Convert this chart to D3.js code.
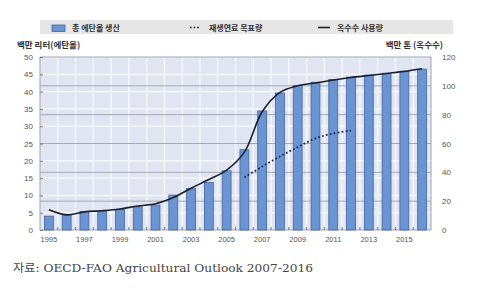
<!DOCTYPE html>
<html>
<head>
<meta charset="utf-8">
<script src="https://cdn.jsdelivr.net/npm/d3@7"></script>
<style>
  html, body { margin: 0; padding: 0; background: #fff; }
  svg { display: block; }
</style>
</head>
<body>
<div id="chart"></div>
<script>
// ---- data ----
const years = d3.range(1995, 2017);
const ethanol = [4.0, 4.4, 5.3, 5.5, 6.0, 6.7, 7.2, 10.1, 12.0, 13.7, 17.1, 23.2, 34.4, 39.6, 41.8, 42.7, 43.5, 44.2, 44.8, 45.3, 45.8, 46.5];
const cornUse = [14, 10.5, 12.6, 13.4, 14.6, 16.7, 18.2, 22.5, 29, 35, 41.5, 54, 82, 95.5, 100, 102, 104, 105.8, 107.2, 108.6, 110, 111.8];
const targetYears = [2006, 2007, 2008, 2009, 2010, 2011, 2012];
const target = [36.5, 44, 51, 57.5, 63.5, 67, 69];
const leftTicks = d3.range(0, 51, 5);
const rightTicks = d3.range(0, 121, 20);
const labelYears = d3.range(1995, 2016, 2);

const W = 480, H = 290;
const plot = { left: 40, right: 431, top: 57, bottom: 230 };

const svg = d3.select("#chart").append("svg")
  .attr("width", W).attr("height", H);

const x = d3.scaleBand().domain(years).range([plot.left, plot.right]).padding(0);
const yL = d3.scaleLinear().domain([0, 50]).range([plot.bottom, plot.top]);
const yR = d3.scaleLinear().domain([0, 120]).range([plot.bottom, plot.top]);
const cx = d => x(d) + x.bandwidth() / 2;

// Legend box
const legend = svg.append("g");
legend.append("rect").attr("x", 40).attr("y", 20).attr("width", 413).attr("height", 14).attr("fill", "#e6e6e6");
legend.append("rect").attr("x", 52).attr("y", 25).attr("width", 13).attr("height", 6.5)
  .attr("fill", "#6b95d2").attr("stroke", "#3f64a0").attr("stroke-width", 0.8);
legend.append("text").attr("x", 72).attr("y", 30.5).text("총 에탄올 생산");
legend.append("line").attr("x1", 190).attr("x2", 199).attr("y1", 27.5).attr("y2", 27.5)
  .attr("stroke", "#222").attr("stroke-width", 1.6).attr("stroke-dasharray", "1.6,2");
legend.append("text").attr("x", 209).attr("y", 30.5).text("재생연료 목표량");
legend.append("line").attr("x1", 318).attr("x2", 330).attr("y1", 27.5).attr("y2", 27.5)
  .attr("stroke", "#222").attr("stroke-width", 1.6);
legend.append("text").attr("x", 337).attr("y", 30.5).text("옥수수 사용량");
legend.selectAll("text")
  .attr("font-family", "'Noto Sans CJK KR', sans-serif").attr("font-size", "8px")
  .attr("font-weight", "bold").attr("fill", "#333");

// Axis titles
svg.append("text").attr("x", 17).attr("y", 48).text("백만 리터(에탄올)")
  .attr("font-family", "'Noto Sans CJK KR', sans-serif").attr("font-size", "8.5px")
  .attr("font-weight", "bold").attr("fill", "#333");
svg.append("text").attr("x", 443).attr("y", 48).attr("text-anchor", "end").text("백만 톤 (옥수수)")
  .attr("font-family", "'Noto Sans CJK KR', sans-serif").attr("font-size", "8.5px")
  .attr("font-weight", "bold").attr("fill", "#333");

// Plot background
svg.append("rect").attr("x", plot.left).attr("y", plot.top)
  .attr("width", plot.right - plot.left).attr("height", plot.bottom - plot.top)
  .attr("fill", "#e0e5f1");

// Vertical white grid at band boundaries
svg.append("g").selectAll("line").data(years.slice(1)).enter().append("line")
  .attr("x1", d => x(d)).attr("x2", d => x(d))
  .attr("y1", plot.top).attr("y2", plot.bottom)
  .attr("stroke", "#fff").attr("stroke-width", 1);

// Horizontal white grid (left ticks)
svg.append("g").selectAll("line").data(leftTicks.slice(1)).enter().append("line")
  .attr("x1", plot.left).attr("x2", plot.right)
  .attr("y1", d => yL(d)).attr("y2", d => yL(d))
  .attr("stroke", "#fff").attr("stroke-width", 1);

// Horizontal grey grid (right ticks)
svg.append("g").selectAll("line").data(rightTicks.slice(1, -1)).enter().append("line")
  .attr("x1", plot.left).attr("x2", plot.right)
  .attr("y1", d => yR(d)).attr("y2", d => yR(d))
  .attr("stroke", "#a3a8b3").attr("stroke-width", 1);

// Frame
svg.append("rect").attr("x", plot.left).attr("y", plot.top)
  .attr("width", plot.right - plot.left).attr("height", plot.bottom - plot.top)
  .attr("fill", "none").attr("stroke", "#a0a4ad").attr("stroke-width", 1);

// Bars
const bw = x.bandwidth() * 0.5;
svg.append("g").selectAll("rect").data(years).enter().append("rect")
  .attr("x", (d) => cx(d) - bw / 2)
  .attr("y", (d, i) => yL(ethanol[i]))
  .attr("width", bw)
  .attr("height", (d, i) => plot.bottom - yL(ethanol[i]))
  .attr("fill", "#6b95d2")
  .attr("stroke", "#3f64a0").attr("stroke-width", 0.8);

// Corn use line
const cornLine = d3.line()
  .x((d, i) => cx(years[i]))
  .y(d => yR(d))
  .curve(d3.curveCatmullRom.alpha(0.5));
svg.append("path").datum(cornUse)
  .attr("d", cornLine)
  .attr("fill", "none").attr("stroke", "#1b1f2e").attr("stroke-width", 1.6);

// Renewable fuel target (dotted)
const targetLine = d3.line()
  .x((d, i) => cx(targetYears[i]))
  .y(d => yR(d))
  .curve(d3.curveCatmullRom.alpha(0.5));
svg.append("path").datum(target)
  .attr("d", targetLine)
  .attr("fill", "none").attr("stroke", "#1d2a52").attr("stroke-width", 1.8)
  .attr("stroke-dasharray", "1.8,2.2");

// Left axis
svg.append("g").attr("transform", `translate(${plot.left},0)`)
  .call(d3.axisLeft(yL).tickValues(leftTicks).tickSize(-3).tickPadding(7))
  .call(g => g.select(".domain").remove())
  .call(g => g.selectAll("line").attr("stroke", "#777"))
  .call(g => g.selectAll("text").attr("fill", "#555").attr("font-size", "8px")
    .attr("font-family", "'Liberation Sans', Arial, sans-serif"));

// Right axis
svg.append("g").attr("transform", `translate(${plot.right},0)`)
  .call(d3.axisRight(yR).tickValues(rightTicks).tickSize(0).tickPadding(11))
  .call(g => g.select(".domain").remove())
  .call(g => g.selectAll("text").attr("fill", "#555").attr("font-size", "8px")
    .attr("font-family", "'Liberation Sans', Arial, sans-serif"));

// Bottom ticks at band boundaries
svg.append("g").selectAll("line").data(years.slice(1)).enter().append("line")
  .attr("x1", d => x(d)).attr("x2", d => x(d))
  .attr("y1", plot.bottom - 3).attr("y2", plot.bottom)
  .attr("stroke", "#555").attr("stroke-width", 0.8);

// Year labels
svg.append("g").selectAll("text").data(labelYears).enter().append("text")
  .attr("x", d => cx(d)).attr("y", 242)
  .attr("text-anchor", "middle")
  .attr("fill", "#555").attr("font-size", "7.5px")
  .attr("font-family", "'Liberation Sans', Arial, sans-serif")
  .text(d => d);

// Source note
svg.append("text").attr("x", 13).attr("y", 272)
  .attr("font-family", "'DejaVu Serif', 'Noto Sans CJK KR', serif")
  .attr("font-size", "11.5px").attr("fill", "#444")
  .attr("textLength", 300).attr("lengthAdjust", "spacingAndGlyphs")
  .text("자료: OECD-FAO Agricultural Outlook 2007-2016");
</script>
</body>
</html>
